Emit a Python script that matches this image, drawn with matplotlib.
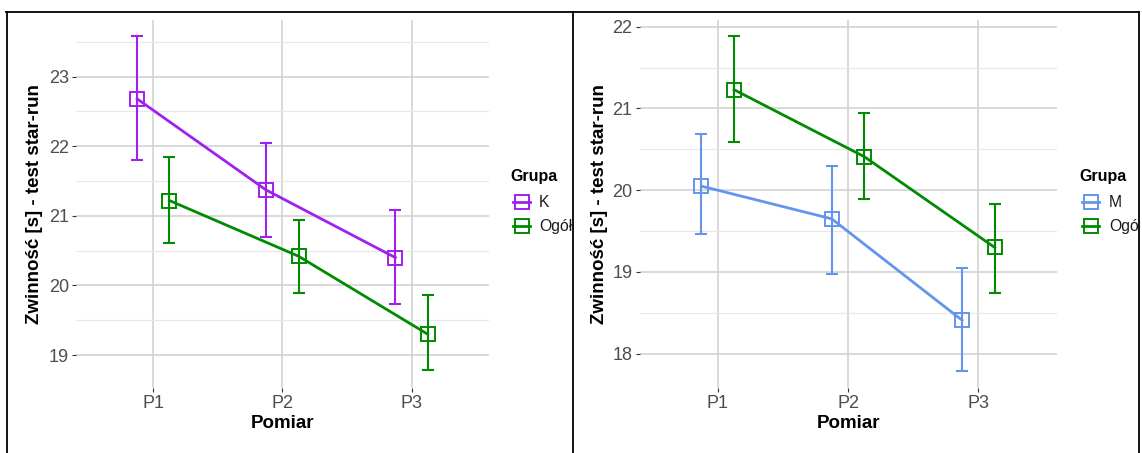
import matplotlib
matplotlib.use("Agg")
import matplotlib.pyplot as plt
from matplotlib.lines import Line2D
from matplotlib.transforms import Bbox, TransformedBbox
import numpy as np

plt.rcParams['font.family'] = ['Liberation Sans', 'DejaVu Sans']

# data
pomiar = ["P1", "P2", "P3"]

k_mean = [22.68, 21.37, 20.40]
k_low = [21.80, 20.69, 19.74]
k_high = [23.59, 22.05, 21.09]

ogol_l_mean = [21.22, 20.42, 19.30]
ogol_l_low = [20.61, 19.89, 18.79]
ogol_l_high = [21.84, 20.94, 19.87]

m_mean = [20.05, 19.65, 18.41]
m_low = [19.46, 18.97, 17.79]
m_high = [20.69, 20.30, 19.05]

ogol_r_mean = [21.23, 20.41, 19.30]
ogol_r_low = [20.59, 19.89, 18.74]
ogol_r_high = [21.89, 20.94, 19.83]

PURPLE = "#A020F0"
GREEN = "#008B00"
BLUE = "#6495ED"
TICK_GRAY = "#4D4D4D"

W, H = 1142, 453
fig = plt.figure(figsize=(W / 100, H / 100), dpi=100)


def fx(px):
    return px / W


def fy(py):
    return 1 - py / H


def panel(x0, x1, ylim, yticks, series, label_x):
    ax = fig.add_axes([fx(x0), fy(388), fx(x1) - fx(x0), fy(20) - fy(388)])
    x = np.arange(1, 4)
    for (mean, low, high, color, off) in series:
        mean = np.array(mean)
        err = [mean - np.array(low), np.array(high) - mean]
        ax.errorbar(x + off, mean, yerr=err, fmt='none', ecolor=color,
                    elinewidth=1.5, capsize=4, capthick=1.5, zorder=3)
        ax.plot(x + off, mean, color=color, lw=2.0, marker='s', ms=9.5,
                mfc='none', mec=color, mew=1.4, zorder=4)
    ax.set_xlim(0.4, 3.6)
    ax.set_ylim(*ylim)
    ax.set_xticks(x)
    ax.set_xticklabels(pomiar)
    ax.set_yticks(yticks)
    minor = [v + 0.5 for v in [yticks[0] - 1] + yticks]
    minor = [v for v in minor if ylim[0] < v < ylim[1]]
    ax.set_yticks(minor, minor=True)
    ax.grid(True, which='major', color="#D0D0D0", lw=1.1)
    ax.grid(True, which='minor', axis='y', color="#E8E8E8", lw=0.9)
    ax.set_axisbelow(True)
    for s in ax.spines.values():
        s.set_visible(False)
    ax.tick_params(which='major', length=3, width=0.8, color="#333333",
                   labelcolor=TICK_GRAY, labelsize=13, pad=2)
    ax.tick_params(which='minor', length=0)
    ax.set_xlabel("Pomiar", fontsize=13.5, fontweight='bold', labelpad=2)
    ax.set_ylabel("Zwinność [s] - test star-run", fontsize=13.5,
                  fontweight='bold')
    ax.yaxis.set_label_coords((label_x - x0) / (x1 - x0), 0.5)
    return ax


panel(75.8, 489, (18.527, 23.813), [19, 20, 21, 22, 23],
      [(k_mean, k_low, k_high, PURPLE, -0.125),
       (ogol_l_mean, ogol_l_low, ogol_l_high, GREEN, 0.125)], 43)
panel(639.5, 1056.6, (17.581, 22.082), [18, 19, 20, 21, 22],
      [(m_mean, m_low, m_high, BLUE, -0.125),
       (ogol_r_mean, ogol_r_low, ogol_r_high, GREEN, 0.125)], 608)


def legend(x_title, x_key, x_lab, labels, colors, clip_right):
    # the legend runs past its cell in the reference, so the labels are cut there
    clip = TransformedBbox(Bbox([[0, 0], [fx(clip_right), 1]]), fig.transFigure)
    fig.text(fx(x_title), fy(177), "Grupa", fontsize=11.5, fontweight='bold',
             va='center', ha='left')
    for i, (lab, c) in enumerate(zip(labels, colors)):
        yy = fy(202 + 24 * i)
        fig.add_artist(Line2D([fx(x_key), fx(x_key + 17)], [yy, yy], color=c,
                              lw=2.0, transform=fig.transFigure))
        fig.add_artist(Line2D([fx(x_key + 8.5)], [yy], color=c, marker='s',
                              ms=9.5, mfc='none', mew=1.4,
                              transform=fig.transFigure))
        t = fig.text(fx(x_lab), yy, lab, fontsize=11.3, color="#1A1A1A",
                     va='center', ha='left')
        t.set_clip_box(clip)
        t.set_clip_on(True)


legend(510, 513, 539, ["K", "Ogół"], [PURPLE, GREEN], 572)
legend(1079, 1082, 1109, ["M", "Ogół"], [BLUE, GREEN], 1138)

# table-like frame around the two panels
for seg in [([6, 1139], [12, 12]), ([6.5, 6.5], [12, 453]),
            ([573, 573], [12, 453]), ([1139, 1139], [12, 453])]:
    fig.add_artist(Line2D([fx(v) for v in seg[0]], [fy(v) for v in seg[1]],
                          color="black", lw=1.3, transform=fig.transFigure))

fig.savefig("out.png", dpi=100)
